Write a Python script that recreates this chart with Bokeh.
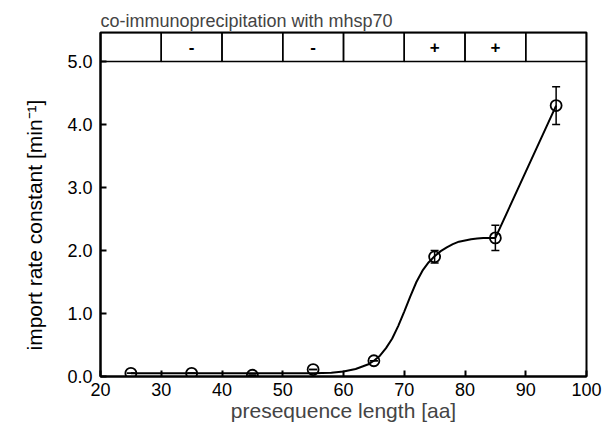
import math
from bokeh.plotting import figure
from bokeh.models import (FixedTicker, Whisker, ColumnDataSource, Title, Range1d,
                          TeeHead)
from bokeh.core.properties import value
from bokeh.embed import file_html
from bokeh.resources import INLINE

# ---------------- data ----------------
title_text = "co-immunoprecipitation with mhsp70"
x_label = "presequence length [aa]"
y_label = "import rate constant [min\u207b\u00b9]"

length = [25, 35, 45, 55, 65, 75, 85, 95]
rate = [0.05, 0.05, 0.02, 0.11, 0.25, 1.90, 2.20, 4.30]
rate_err = [0.0, 0.0, 0.0, 0.0, 0.0, 0.10, 0.20, 0.30]

fit_x = [25, 55, 58, 60, 62, 64, 65, 66, 67, 68, 69, 70, 71, 72, 73, 74, 75, 76,
         77, 78, 79, 80, 81, 82, 83, 84, 85, 95]
fit_y = [0.05, 0.05, 0.06, 0.08, 0.12, 0.19, 0.25, 0.33, 0.45, 0.60, 0.80, 1.03,
         1.27, 1.50, 1.68, 1.81, 1.91, 1.99, 2.05, 2.10, 2.14, 2.16, 2.18, 2.19,
         2.20, 2.20, 2.20, 4.30]

cell_left = [20, 30, 40, 50, 60, 70, 80, 90]
cell_right = [30, 40, 50, 60, 70, 80, 90, 100]
cell_sign = ["", "-", "", "-", "", "+", "+", ""]

x_ticks = [20, 30, 40, 50, 60, 70, 80, 90, 100]
y_ticks = [0, 1, 2, 3, 4, 5]
y_tick_labels = {0: "0.0", 1: "1.0", 2: "2.0", 3: "3.0", 4: "4.0", 5: "5.0"}

y_top = 5.0
y_box_top = 5.46

FONT = "Liberation Sans"

# ---------------- figure ----------------
p = figure(width=605, height=425, output_backend="svg", toolbar_location=None,
           x_range=Range1d(20, 100), y_range=Range1d(0, y_box_top),
           min_border_left=100, min_border_right=19, min_border_top=32,
           min_border_bottom=49)
p.background_fill_color = "white"
p.border_fill_color = "white"
p.outline_line_color = "black"
p.outline_line_width = 2
p.xgrid.visible = False
p.ygrid.visible = False

p.title.text = title_text
p.title.align = "left"
p.title.text_font = FONT
p.title.text_font_size = "18px"
p.title.text_font_style = "normal"
p.title.standoff = 4

for ax in (p.xaxis[0], p.yaxis[0]):
    ax.axis_line_width = 2
    ax.major_tick_line_width = 2
    ax.major_tick_in = 6
    ax.major_tick_out = 0
    ax.minor_tick_line_color = None
    ax.major_label_text_font = FONT
    ax.major_label_text_font_size = "18px"
    ax.major_label_text_color = "black"
    ax.axis_label_text_font = FONT
    ax.axis_label_text_font_size = "21px"
    ax.axis_label_text_font_style = "normal"

p.xaxis.ticker = FixedTicker(ticks=x_ticks)
p.xaxis.axis_label = x_label
p.xaxis.major_label_standoff = 6
p.xaxis.axis_label_standoff = 0

p.yaxis.ticker = FixedTicker(ticks=y_ticks)
p.yaxis.major_label_overrides = y_tick_labels
p.yaxis.major_label_standoff = 8

# y label as a side title, starting a little above the frame bottom
p.add_layout(Title(text=y_label, align="left", offset=26, standoff=37,
                   text_font=FONT, text_font_size="21px",
                   text_font_style="normal", text_color="black"), "left")

# co-immunoprecipitation box
cells = ColumnDataSource(dict(left=cell_left, right=cell_right,
                              bottom=[y_top] * len(cell_left),
                              top=[y_box_top] * len(cell_left),
                              xc=[(a + b) / 2 for a, b in zip(cell_left, cell_right)],
                              yc=[(y_top + y_box_top) / 2] * len(cell_left),
                              sign=cell_sign))
p.quad(left="left", right="right", bottom="bottom", top="top", source=cells,
       fill_color=None, line_color="black", line_width=1.5)
p.text(x="xc", y="yc", text="sign", source=cells, text_align="center",
       text_baseline="middle", text_font=value(FONT), text_font_size="17px",
       text_font_style="bold", text_color="black")

# fitted curve
p.line(fit_x, fit_y, line_color="black", line_width=2)

# error bars
src = ColumnDataSource(dict(x=length, y=rate,
                            lo=[r - e for r, e in zip(rate, rate_err)],
                            hi=[r + e for r, e in zip(rate, rate_err)]))
wh = Whisker(base="x", lower="lo", upper="hi", source=src, line_width=1.5,
             line_color="black",
             lower_head=TeeHead(size=8, line_width=1.5, line_color="black"),
             upper_head=TeeHead(size=8, line_width=1.5, line_color="black"))
p.add_layout(wh)

# data points
p.scatter(x="x", y="y", source=src, marker="circle", size=11,
          fill_color=None, line_color="black", line_width=1.8)

open("out.html", "w").write(file_html(p, INLINE))
